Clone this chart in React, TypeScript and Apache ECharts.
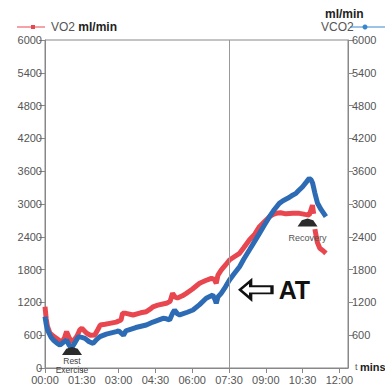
import React, { useEffect, useRef } from "react";
import * as echarts from "echarts";

// time in minutes, values in ml/min
const vo2Times = [0.0, 0.05, 0.1, 0.2, 0.35, 0.48, 0.6, 0.7, 0.8, 0.88, 0.98, 1.08, 1.2, 1.3, 1.42, 1.5, 1.6, 1.7, 1.85, 2.03, 2.15, 2.25, 2.45, 2.64, 2.9, 3.1, 3.16, 3.3, 3.59, 3.9, 4.13, 4.3, 4.4, 4.6, 4.8, 4.95, 5.1, 5.2, 5.3, 5.4, 5.6, 5.76, 6.0, 6.3, 6.55, 6.78, 6.9, 6.98, 7.05, 7.18, 7.35, 7.52, 7.7, 7.93, 8.1, 8.33, 8.55, 8.74, 8.95, 9.15, 9.3, 9.42, 9.6, 9.82, 10.1, 10.37, 10.6, 10.77, 10.85, 10.9, 10.95, 10.97, 11.0, 11.1, 11.2, 11.35, 11.45];
const vo2Values = [1120, 900, 760, 640, 580, 540, 500, 480, 560, 665, 560, 480, 520, 580, 700, 726, 680, 635, 600, 604, 700, 786, 800, 817, 840, 878, 1000, 1000, 970, 1010, 1030, 1080, 1120, 1150, 1170, 1183, 1220, 1366, 1300, 1280, 1320, 1366, 1440, 1550, 1600, 1640, 1620, 1550, 1700, 1790, 1880, 1975, 2030, 2098, 2200, 2341, 2450, 2585, 2680, 2768, 2810, 2829, 2840, 2820, 2830, 2829, 2810, 2800, 2900, 2980, 2820, null, 2540, 2300, 2190, 2140, 2098];

const vco2Times = [0.0, 0.05, 0.1, 0.25, 0.34, 0.5, 0.61, 0.75, 0.88, 0.98, 1.08, 1.2, 1.36, 1.5, 1.63, 1.8, 1.96, 2.1, 2.24, 2.5, 2.91, 3.0, 3.2, 3.3, 3.39, 3.7, 4.13, 4.4, 4.81, 4.95, 5.08, 5.2, 5.28, 5.4, 5.49, 5.8, 6.03, 6.3, 6.57, 6.84, 6.93, 6.98, 7.05, 7.18, 7.35, 7.52, 7.7, 7.93, 8.1, 8.33, 8.55, 8.74, 8.95, 9.15, 9.35, 9.55, 9.7, 9.89, 10.05, 10.23, 10.35, 10.5, 10.65, 10.77, 10.85, 10.91, 11.0, 11.11, 11.25, 11.45];
const vco2Values = [940, 800, 696, 560, 512, 450, 420, 470, 512, 420, 360, 450, 573, 560, 543, 480, 451, 520, 573, 620, 665, 680, 600, 680, 695, 740, 786, 840, 909, 900, 878, 1000, 1061, 990, 970, 1020, 1061, 1160, 1275, 1335, 1250, 1183, 1300, 1366, 1480, 1610, 1720, 1853, 1990, 2158, 2320, 2463, 2620, 2768, 2900, 3012, 3060, 3104, 3150, 3195, 3250, 3316, 3400, 3470, 3440, 3378, 3200, 3012, 2900, 2768];

const atTime = 7.5;
const restMarker = [1.1, 310];
const recoveryMarker = [10.7, 2660];
const atLabelPos = [8.6, 1430];

const RED = "#e8474f";
const BLUE = "#2d6cb5";
const GREY = "#555";
const FONT = "Liberation Sans, Arial, sans-serif";

function fmtTime(v: number): string {
  const k = Math.round(v / 1.5);
  if (Math.abs(v - k * 1.5) > 1e-6) return "";
  const total = Math.round(v * 60);
  const mm = Math.floor(total / 60);
  const ss = total % 60;
  return String(mm).padStart(2, "0") + ":" + String(ss).padStart(2, "0");
}

export default function App() {
  const ref = useRef<HTMLDivElement>(null);
  useEffect(() => {
    if (!ref.current) return;
    const chart = echarts.init(ref.current, undefined, { renderer: "svg" });
    const vo2 = vo2Times.map((t, i) => [t, vo2Values[i]]);
    const vco2 = vco2Times.map((t, i) => [t, vco2Values[i]]);
    const yLabel = { color: GREY, fontSize: 11, fontFamily: FONT, margin: 3, formatter: (v: number) => String(v) };
    const yCommon = {
      type: "value",
      min: 0,
      max: 6000,
      interval: 600,
      splitLine: { show: false },
      axisLine: { show: true, lineStyle: { color: "#888", width: 1 } },
      axisTick: { show: true, length: 6, lineStyle: { color: "#888" } },
      axisLabel: yLabel,
    };
    chart.setOption({
      animation: false,
      backgroundColor: "#fff",
      grid: { left: 45, right: 37, top: 40, bottom: 24, show: true, borderColor: "#888", borderWidth: 1 },
      xAxis: {
        type: "value",
        min: 0,
        max: 12.35,
        interval: 1.5,
        splitLine: { show: false },
        axisLine: { lineStyle: { color: "#888" } },
        axisTick: { show: true, length: 5, lineStyle: { color: "#888" } },
        axisLabel: { color: GREY, fontSize: 11, fontFamily: FONT, margin: 6, showMaxLabel: false, formatter: (v: number) => fmtTime(v) },
      },
      yAxis: [
        { ...yCommon, position: "left" },
        { ...yCommon, position: "right", axisLabel: { ...yLabel, showMinLabel: false, margin: 4 }, axisTick: { show: true, length: 5, lineStyle: { color: "#888" } } },
      ],
      series: [
        {
          name: "VO2",
          type: "line",
          data: vo2,
          showSymbol: false,
          symbol: "none",
          connectNulls: false,
          lineStyle: { color: RED, width: 5 },
          itemStyle: { color: RED },
          z: 2,
          markLine: {
            silent: true,
            symbol: "none",
            label: { show: false },
            lineStyle: { color: "#999", width: 1, type: "solid" },
            data: [{ xAxis: atTime }],
          },
        },
        {
          name: "VCO2",
          type: "line",
          data: vco2,
          showSymbol: false,
          symbol: "none",
          lineStyle: { color: BLUE, width: 5 },
          itemStyle: { color: BLUE },
          z: 3,
          markPoint: {
            silent: true,
            data: [
              {
                coord: restMarker,
                symbol: "path://M0,10 L6,2 L14,0 L22,2 L28,10 Z",
                symbolSize: [20, 8],
                itemStyle: { color: "#2b2b2b" },
                label: { show: true, position: "bottom", distance: 1, formatter: "Rest\nExercise", lineHeight: 9, color: "#444", fontSize: 8.5, fontFamily: FONT },
              },
              {
                coord: recoveryMarker,
                symbol: "path://M0,10 L6,2 L14,0 L22,2 L28,10 Z",
                symbolSize: [20, 8],
                itemStyle: { color: "#2b2b2b" },
                label: { show: true, position: "bottom", distance: 7, formatter: "Recovery", color: "#555", fontSize: 9, fontFamily: FONT },
              },
              {
                coord: atLabelPos,
                symbol: "path://M0,10 L11,0 L11,6 L33,6 L33,14 L11,14 L11,20 Z",
                symbolSize: [32, 18],
                itemStyle: { color: "#fff", borderColor: "#111", borderWidth: 2.5 },
                label: { show: true, position: "right", distance: 5, formatter: "AT", color: "#111", fontSize: 25, fontWeight: "bold", fontFamily: FONT },
              },
            ],
          },
        },
      ],
      graphic: [
        { type: "line", shape: { x1: 17, y1: 27, x2: 45, y2: 27 }, style: { stroke: RED, lineWidth: 1 } },
        { type: "rect", shape: { x: 31, y: 25, width: 4, height: 4 }, style: { fill: RED } },
        {
          type: "text",
          x: 51,
          y: 27,
          style: {
            text: "VO2 {b|ml/min}",
            fill: GREY,
            fontSize: 12,
            fontFamily: FONT,
            verticalAlign: "middle",
            rich: { b: { fontWeight: "bold", fill: "#222", fontSize: 12, fontFamily: FONT } },
          },
        },
        { type: "text", x: 325, y: 14, style: { text: "ml/min", fill: "#222", fontWeight: "bold", fontSize: 12, fontFamily: FONT, verticalAlign: "middle" } },
        { type: "text", x: 321, y: 27, style: { text: "VCO2", fill: GREY, fontSize: 12, fontFamily: FONT, verticalAlign: "middle" } },
        { type: "line", shape: { x1: 350, y1: 27, x2: 385, y2: 27 }, style: { stroke: "#3a86cc", lineWidth: 1 } },
        { type: "circle", shape: { cx: 365, cy: 27, r: 2.5 }, style: { fill: "#3a86cc" } },
        {
          type: "text",
          x: 355,
          y: 367,
          style: {
            text: "t {b|mins}",
            fill: GREY,
            fontSize: 9,
            fontFamily: FONT,
            verticalAlign: "middle",
            rich: { b: { fontWeight: "bold", fill: "#222", fontSize: 11, fontFamily: FONT } },
          },
        },
      ],
    });
    return () => chart.dispose();
  }, []);
  return <div ref={ref} style={{ position: "fixed", left: 0, top: 0, width: 385, height: 392 }} />;
}
